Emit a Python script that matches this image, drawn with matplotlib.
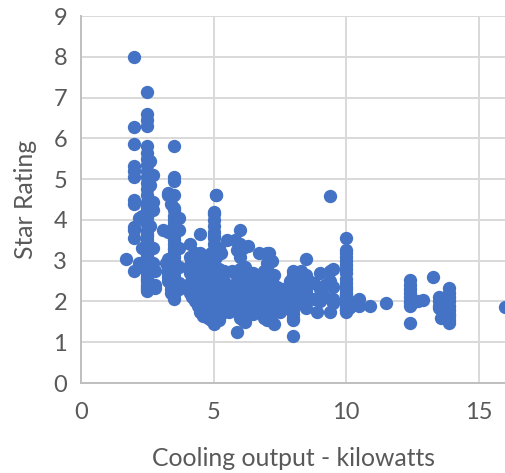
import matplotlib.pyplot as plt

# values, one list per group of units with similar output
x_small = [1.7, 2.0, 2.0, 2.0, 2.0, 2.0, 2.0, 2.0, 2.0, 2.0, 2.0, 2.0, 2.0,
           2.2, 2.2, 2.3, 2.3, 2.3]
y_small = [3.05, 8.0, 6.27, 5.87, 5.33, 5.2, 5.05, 4.5, 4.38, 3.82, 3.55, 3.75, 2.75,
           4.05, 2.95, 4.1, 3.3, 2.85]

x_25 = [2.5] * 40
y_25 = [7.13, 6.6, 6.45, 6.3, 5.8, 5.65, 5.5, 5.35, 5.2, 5.05, 4.9, 4.75, 4.6, 4.45,
        4.3, 4.2, 4.05, 3.9, 3.75, 3.6, 3.5, 3.4, 3.3, 3.2, 3.1, 3.0, 2.9, 2.8, 2.7,
        2.6, 2.5, 2.4, 2.3, 2.25, 2.35, 4.4, 4.15, 3.65, 3.15, 2.55]
x_27 = [2.7, 2.7, 2.7, 2.7, 2.8, 2.8, 2.8, 2.7, 2.6, 2.6, 2.6]
y_27 = [5.1, 4.45, 4.25, 3.3, 2.75, 2.32, 2.4, 2.95, 5.45, 4.85, 3.85]

x_33 = [3.1, 3.2, 3.3, 3.3, 3.3, 3.3, 3.3, 3.3, 3.3, 3.3, 3.3, 3.4, 3.4, 3.4, 3.4]
y_33 = [3.75, 2.95, 4.65, 4.6, 3.7, 3.05, 2.95, 2.8, 2.7, 2.6, 2.5, 2.4, 2.3, 2.2, 4.4]
x_35 = [3.5] * 30 + [3.7, 3.7, 3.7, 3.7, 3.7, 3.7]
y_35 = [5.8, 5.05, 4.95, 4.6, 4.3, 4.25, 4.1, 4.0, 3.85, 3.75, 3.6, 3.5, 3.4, 3.3, 3.2,
        3.1, 3.0, 2.9, 2.8, 2.7, 2.6, 2.5, 2.4, 2.3, 2.2, 2.05, 3.9, 3.25, 2.85, 2.15,
        4.05, 3.75, 3.3, 2.85, 2.45, 2.3]

x_45 = [4.1, 4.1, 4.1, 4.1, 4.1, 4.1, 4.2, 4.2, 4.2, 4.2, 4.2, 4.3, 4.3, 4.3, 4.3, 4.4,
        4.4, 4.4, 4.4, 4.5, 4.5, 4.5, 4.5, 4.5, 4.5, 4.5, 4.6, 4.6, 4.6, 4.6, 4.6, 4.7,
        4.7, 4.7, 4.7, 4.8, 4.8, 4.8, 4.8, 4.8, 4.8, 4.9, 4.9, 4.9, 4.9, 4.9]
y_45 = [3.4, 3.1, 2.9, 2.7, 2.45, 2.2, 3.05, 2.8, 2.5, 2.3, 2.1, 3.2, 2.9, 2.65, 2.0,
        2.85, 2.45, 2.15, 1.9, 3.65, 3.2, 2.9, 2.6, 2.3, 2.05, 1.75, 3.1, 2.7, 2.35, 2.0,
        1.65, 3.0, 2.5, 2.15, 1.8, 3.05, 2.75, 2.4, 2.1, 1.85, 1.6, 3.2, 2.6, 2.2, 1.95,
        1.55]
x_50 = [5.0] * 32 + [5.1, 5.1, 5.1, 5.2, 5.2, 5.2, 5.2, 5.2, 5.3, 5.3, 5.3, 5.3,
                     5.4, 5.4, 5.4, 5.4, 5.2, 5.2]
y_50 = [4.15, 4.2, 4.0, 3.85, 3.7, 3.55, 3.4, 3.25, 3.1, 3.0, 2.9, 2.8, 2.7, 2.6, 2.5,
        2.4, 2.3, 2.2, 2.1, 2.0, 1.9, 1.8, 1.7, 1.6, 1.5, 1.45, 3.6, 2.75, 2.35, 1.95,
        1.65, 1.55, 4.6, 4.6, 3.1, 3.3, 2.8, 2.3, 1.9, 1.55, 3.2, 2.6, 2.1, 1.7,
        2.75, 2.5, 2.0, 1.8, 2.55, 2.05]

x_60 = [5.5, 5.5, 5.5, 5.6, 5.6, 5.7, 5.7, 5.8, 5.8, 5.8, 5.9, 5.9, 5.9, 5.9, 6.0, 6.0,
        6.0, 6.0, 6.0, 6.0, 6.0, 6.0, 6.0, 6.0, 6.0, 6.1, 6.1, 6.1, 6.2, 6.2, 6.2, 6.2,
        6.2, 6.3, 6.3, 6.3, 6.3, 6.4, 6.4, 6.5, 6.5, 6.5, 6.6, 6.6, 6.7, 6.7, 6.7, 6.8,
        6.8, 6.9, 6.9, 5.7, 5.8, 5.9, 6.1, 6.1, 6.3, 6.4, 6.5, 6.6, 6.7, 6.8, 6.9, 6.9]
y_60 = [3.5, 2.3, 1.85, 2.2, 1.75, 2.75, 2.0, 3.5, 2.7, 2.1, 3.25, 2.5, 1.9, 1.25, 3.75,
        3.4, 3.1, 2.8, 2.55, 2.4, 2.25, 2.1, 1.95, 1.8, 1.6, 3.3, 2.6, 1.55, 2.85, 2.5,
        2.2, 1.9, 1.5, 3.35, 2.7, 2.3, 1.75, 2.55, 1.9, 2.4, 2.05, 1.7, 2.5, 1.85, 3.2,
        2.3, 1.75, 2.65, 2.0, 2.35, 1.6, 2.3, 2.35, 2.2, 2.3, 2.05, 2.1, 2.2, 2.7, 2.15,
        2.65, 2.4, 2.75, 2.15]
x_70 = [7.0] * 20 + [7.1, 7.1, 7.2, 7.2, 7.2, 7.2, 7.3, 7.3, 7.3, 7.4, 7.4, 7.5, 7.5,
                     7.6, 7.6, 7.7, 7.7, 7.8, 7.8, 7.9, 7.9]
y_70 = [3.2, 3.15, 2.95, 2.8, 2.7, 2.6, 2.5, 2.4, 2.3, 2.2, 2.1, 2.0, 1.9, 1.8, 1.7,
        1.6, 1.55, 2.75, 2.25, 1.95, 3.2, 2.1, 3.0, 2.5, 2.05, 1.7, 2.65, 2.2, 1.45,
        2.35, 1.9, 2.2, 1.75, 2.3, 1.95, 2.15, 1.85, 2.35, 2.0, 2.5, 1.85]
x_80 = [8.0] * 14 + [8.2, 8.2, 8.2, 8.3, 8.3, 8.3, 8.5, 8.5, 8.5, 8.5, 8.6, 8.6, 8.8,
                     8.8, 8.9, 9.0, 9.0, 9.0, 9.2, 9.2, 9.4, 9.4, 9.4, 9.4, 9.5, 9.5,
                     9.5, 9.5]
y_80 = [2.75, 2.65, 2.5, 2.4, 2.3, 2.2, 2.1, 2.0, 1.9, 1.8, 1.7, 1.6, 1.55, 1.15, 2.6,
        2.3, 2.0, 2.75, 2.4, 2.1, 3.05, 2.65, 2.25, 1.85, 2.5, 2.05, 2.45, 2.05, 1.75,
        2.7, 2.3, 2.0, 2.4, 2.1, 4.58, 2.75, 2.5, 1.75, 2.8, 2.35, 2.05, 1.95]
x_100 = [10.0] * 24 + [10.1, 10.1, 10.2, 10.5, 10.5, 10.9, 11.5]
y_100 = [3.55, 3.25, 3.2, 3.1, 3.0, 2.9, 2.8, 2.7, 2.55, 2.45, 2.35, 2.3, 2.2, 2.15,
         2.1, 2.05, 2.0, 1.95, 1.9, 1.85, 1.8, 1.78, 1.75, 2.15, 1.85, 2.0, 1.9, 1.9,
         2.05, 1.9, 1.97]
x_big = [12.4] * 9 + [12.5, 12.7, 12.9, 13.3, 13.5, 13.5, 13.5, 13.5, 13.6, 13.9, 13.9,
                      13.9, 13.9, 13.9, 13.9, 13.9, 13.9, 13.9, 13.9, 16.0]
y_big = [2.53, 2.4, 2.3, 2.2, 2.1, 2.0, 1.95, 1.9, 1.47, 1.95, 2.0, 2.03, 2.6, 2.1, 2.0,
         1.9, 1.85, 1.6, 2.33, 2.2, 2.1, 2.0, 1.9, 1.8, 1.7, 1.65, 1.55, 1.47, 1.87]

x = x_small + x_25 + x_27 + x_33 + x_35 + x_45 + x_50 + x_60 + x_70 + x_80 + x_100 + x_big
y = y_small + y_25 + y_27 + y_33 + y_35 + y_45 + y_50 + y_60 + y_70 + y_80 + y_100 + y_big

plt.rcParams['font.family'] = ['Lato', 'DejaVu Sans']

fig = plt.figure(figsize=(5.05, 4.73), dpi=100)
ax = fig.add_axes([81 / 505, 1 - 383 / 473, (505 - 81) / 505, (383 - 16) / 473])

ax.scatter(x, y, s=92, color='#4472c4', linewidths=0, zorder=3)

ax.set_xlim(0, 16)
ax.set_ylim(0, 9)
ax.set_xticks([0, 5, 10, 15])
ax.set_yticks(range(10))
ax.grid(True, color='#d9d9d9', linewidth=1.4)
ax.set_axisbelow(True)
ax.tick_params(axis='x', length=0, labelsize=17, labelcolor='#595959', pad=14)
ax.tick_params(axis='y', length=0, labelsize=17, labelcolor='#595959', pad=10)

for name in ['top', 'right']:
    ax.spines[name].set_visible(False)
for name in ['left', 'bottom']:
    ax.spines[name].set_color('#bfbfbf')
    ax.spines[name].set_linewidth(1.4)

ax.set_xlabel('Cooling output - kilowatts', fontsize=17.8, color='#595959', labelpad=17)
ax.set_ylabel('Star Rating', fontsize=17.8, color='#595959', labelpad=12)

fig.savefig('out.png', dpi=100)
